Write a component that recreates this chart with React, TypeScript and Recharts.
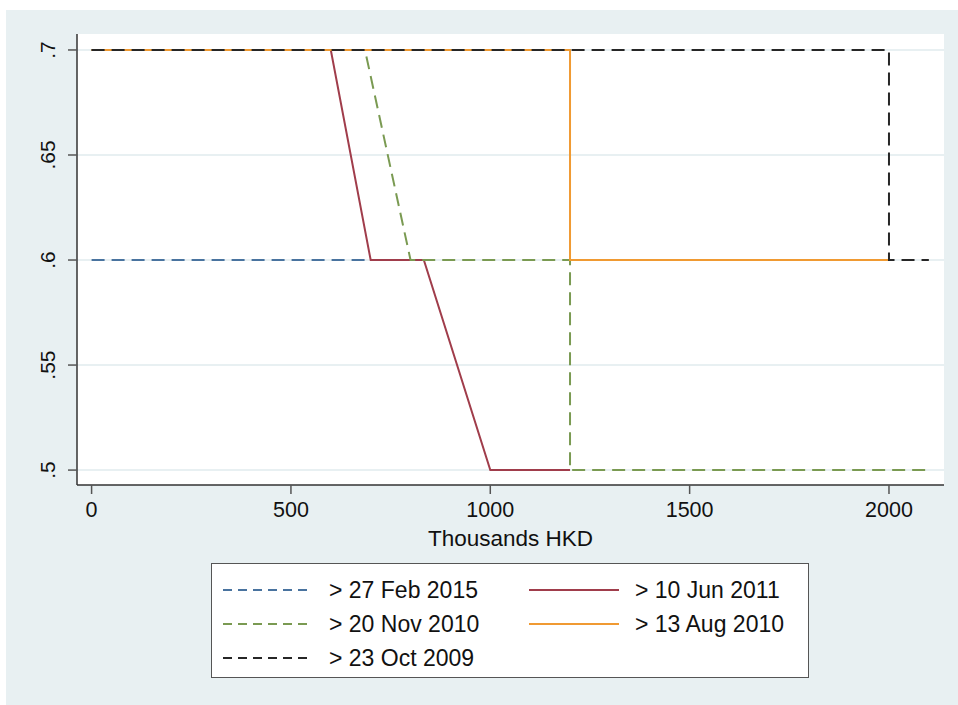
import React from "react";
import { LineChart, Line, XAxis, YAxis, CartesianGrid, Legend } from "recharts";

// Series data: x in thousands HKD, y = loan-to-value ratio
const feb2015 = [
  { x: 0, y: 0.6 },
  { x: 700, y: 0.6 },
];
const jun2011 = [
  { x: 0, y: 0.7 },
  { x: 600, y: 0.7 },
  { x: 700, y: 0.6 },
  { x: 833.33, y: 0.6 },
  { x: 1000, y: 0.5 },
  { x: 1200, y: 0.5 },
];
const nov2010 = [
  { x: 0, y: 0.7 },
  { x: 685.7, y: 0.7 },
  { x: 800, y: 0.6 },
  { x: 1200, y: 0.6 },
  { x: 1200, y: 0.5 },
  { x: 2100, y: 0.5 },
];
const aug2010 = [
  { x: 0, y: 0.7 },
  { x: 1200, y: 0.7 },
  { x: 1200, y: 0.6 },
  { x: 2000, y: 0.6 },
];
const oct2009 = [
  { x: 0, y: 0.7 },
  { x: 2000, y: 0.7 },
  { x: 2000, y: 0.6 },
  { x: 2100, y: 0.6 },
];

const xTicks = [0, 500, 1000, 1500, 2000];
const yTicks = [0.5, 0.55, 0.6, 0.65, 0.7];
const yTickLabels = [".5", ".55", ".6", ".65", ".7"];

const seriesNames = ["> 27 Feb 2015", "> 10 Jun 2011", "> 20 Nov 2010", "> 13 Aug 2010", "> 23 Oct 2009"];

const FONT = "'Liberation Sans', Arial, sans-serif";
const PANEL = "#e8f0f2";

const YTick = (props: any) => {
  const { x, y, payload } = props;
  const idx = yTicks.indexOf(payload.value);
  const label = idx >= 0 ? yTickLabels[idx] : String(payload.value);
  return (
    <text
      x={0}
      y={0}
      transform={`translate(${x - 11},${y}) rotate(-90)`}
      textAnchor="middle"
      fontSize={21}
      fontFamily={FONT}
      fill="#111"
    >
      {label}
    </text>
  );
};

const LegendBox = (props: any) => {
  const { payload } = props;
  const items = [...(payload || [])].sort(
    (a: any, b: any) => seriesNames.indexOf(a.value) - seriesNames.indexOf(b.value)
  );
  return (
    <div
      style={{
        width: 598,
        height: 115,
        boxSizing: "border-box",
        border: "1.5px solid #555",
        background: "#fff",
        position: "relative",
        fontFamily: FONT,
      }}
    >
      {items.map((it: any, i: number) => {
        const col = i % 2;
        const row = Math.floor(i / 2);
        const left = col === 0 ? 10 : 316;
        const top = 26 + row * 34;
        const dashed = it.payload && it.payload.strokeDasharray;
        return (
          <div key={i} style={{ position: "absolute", left, top: top - 14, height: 28, display: "flex", alignItems: "center" }}>
            <svg width={92} height={28} style={{ display: "block" }}>
              <line
                x1={1}
                y1={14}
                x2={91}
                y2={14}
                stroke={it.color}
                strokeWidth={2}
                strokeDasharray={dashed ? "9 6" : undefined}
              />
            </svg>
            <span style={{ marginLeft: 15, fontSize: 23, color: "#111", whiteSpace: "nowrap" }}>{it.value}</span>
          </div>
        );
      })}
    </div>
  );
};

export default function App() {
  return (
    <div style={{ position: "absolute", left: 0, top: 0, width: 958, height: 705, background: "#fff" }}>
      <div style={{ position: "absolute", left: 6, top: 10, width: 952, height: 695, background: PANEL }} />
      <div style={{ position: "absolute", left: 0, top: 0 }}>
        <LineChart width={958} height={705} margin={{ top: 34, right: 14, left: 0, bottom: 120 }}>
          <CartesianGrid vertical={false} horizontal={true} fill="#fff" stroke={PANEL} strokeWidth={2} horizontalValues={yTicks} />
          <XAxis
            type="number"
            dataKey="x"
            domain={[-36.6, 2138]}
            ticks={xTicks}
            allowDataOverflow
            height={100}
            stroke="#333"
            strokeWidth={1.5}
            tickSize={9}
            tickMargin={8}
            tick={{ fontSize: 21.5, fontFamily: FONT, fill: "#111" }}
            tickLine={{ stroke: "#555", strokeWidth: 1.5 }}
            label={{
              content: (p: any) => {
                const vb = p.viewBox;
                return (
                  <text x={vb.x + vb.width / 2} y={vb.y + 61} textAnchor="middle" fontSize={22.5} fontFamily={FONT} fill="#111">
                    Thousands HKD
                  </text>
                );
              },
            }}
          />
          <YAxis
            type="number"
            dataKey="y"
            domain={[0.4929, 0.7076]}
            ticks={yTicks}
            allowDataOverflow
            width={77}
            stroke="#333"
            strokeWidth={1.5}
            tickSize={9}
            tickLine={{ stroke: "#555", strokeWidth: 1.5 }}
            tick={<YTick />}
          />
          <Legend
            layout="vertical"
            align="center"
            verticalAlign="middle"
            wrapperStyle={{ left: 211, top: 563, width: 598, height: 115 }}
            content={<LegendBox />}
          />
          <Line data={feb2015} dataKey="y" name={seriesNames[0]} type="linear" stroke="#49739f" strokeWidth={2} strokeDasharray="13 7" dot={false} isAnimationActive={false} />
          <Line data={jun2011} dataKey="y" name={seriesNames[1]} type="linear" stroke="#a03d4b" strokeWidth={2} dot={false} isAnimationActive={false} />
          <Line data={nov2010} dataKey="y" name={seriesNames[2]} type="linear" stroke="#7a9a52" strokeWidth={2} strokeDasharray="13 7" dot={false} isAnimationActive={false} />
          <Line data={aug2010} dataKey="y" name={seriesNames[3]} type="linear" stroke="#f09a32" strokeWidth={2} dot={false} isAnimationActive={false} />
          <Line data={oct2009} dataKey="y" name={seriesNames[4]} type="linear" stroke="#262626" strokeWidth={2} strokeDasharray="13 7" dot={false} isAnimationActive={false} />
        </LineChart>
      </div>
    </div>
  );
}
